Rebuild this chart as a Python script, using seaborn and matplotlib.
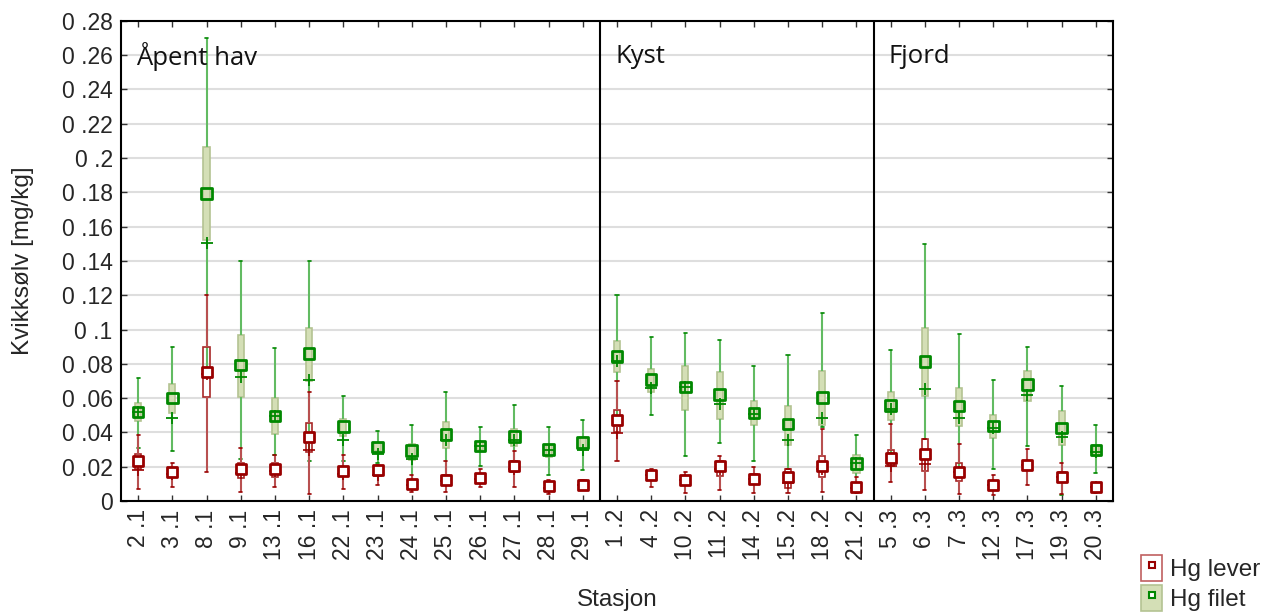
import matplotlib
matplotlib.use("Agg")
import matplotlib.pyplot as plt
from matplotlib.patches import Patch
from matplotlib.lines import Line2D
import numpy as np
import pandas as pd
import seaborn as sns

sns.set_theme(style="white")
plt.rcParams['font.family'] = ['Liberation Sans', 'DejaVu Sans']

# stations, grouped: Åpent hav (.1), Kyst (.2), Fjord (.3)
stations = ['2 .1', '3 .1', '8 .1', '9 .1', '13 .1', '16 .1', '22 .1', '23 .1', '24 .1', '25 .1',
            '26 .1', '27 .1', '28 .1', '29 .1',
            '1 .2', '4 .2', '10 .2', '11 .2', '14 .2', '15 .2', '18 .2', '21 .2',
            '5 .3', '6 .3', '7 .3', '12 .3', '17 .3', '19 .3', '20 .3']
regions = ['Åpent hav', 'Kyst', 'Fjord']
region_sizes = [14, 8, 7]

# Hg filet [mg/kg]: whisker low, box low, centre (square), box high, whisker high, '+' mark
filet_min = [0.031, 0.029, 0.074, 0.0245, 0.0268, 0.0233, 0.0233, 0.0221, 0.012, 0.0153,
             0.0206, 0.0231, 0.015, 0.0183,
             0.048, 0.0502, 0.0262, 0.0339, 0.0231, 0.0184, 0.043, 0.0083,
             0.028, 0.0359, 0.0184, 0.0184, 0.032, 0.0037, 0.0165]
filet_q1 = [0.0466, 0.0515, 0.1525, 0.0608, 0.0392, 0.0699, 0.0379, 0.0289, 0.0241, 0.0307,
            0.0295, 0.0318, 0.0256, 0.0299,
            0.0752, 0.0636, 0.0533, 0.0481, 0.0446, 0.0329, 0.0442, 0.0165,
            0.047, 0.0612, 0.0439, 0.0369, 0.0584, 0.0324, 0.0262]
filet_mid = [0.052, 0.060, 0.1794, 0.0792, 0.0495, 0.086, 0.0435, 0.0315, 0.0295, 0.0388,
             0.032, 0.0377, 0.0299, 0.034,
             0.0843, 0.0707, 0.0665, 0.062, 0.0514, 0.045, 0.0605, 0.0219,
             0.0557, 0.0812, 0.0553, 0.0437, 0.0678, 0.0427, 0.0297]
filet_q3 = [0.0569, 0.0682, 0.2062, 0.0967, 0.0602, 0.101, 0.048, 0.0338, 0.0332, 0.0462,
            0.0344, 0.0421, 0.0328, 0.0373,
            0.0934, 0.0771, 0.0785, 0.0752, 0.0581, 0.0552, 0.0756, 0.0266,
            0.0637, 0.1008, 0.0658, 0.0501, 0.0761, 0.0524, 0.0324]
filet_max = [0.0718, 0.090, 0.270, 0.140, 0.0893, 0.140, 0.0612, 0.041, 0.0441, 0.0637,
             0.0429, 0.0561, 0.0429, 0.047,
             0.120, 0.0959, 0.0979, 0.094, 0.0789, 0.0849, 0.1099, 0.0384,
             0.0883, 0.150, 0.0973, 0.0703, 0.0899, 0.0672, 0.0443]
filet_plus = [0.052, 0.0485, 0.1506, 0.0724, 0.0495, 0.0705, 0.0353, 0.0272, 0.0245, 0.0357,
              0.032, 0.0357, 0.0299, 0.0299,
              0.0814, 0.0657, 0.0665, 0.0568, 0.051, 0.0353, 0.0484, 0.0219,
              0.0534, 0.0656, 0.0485, 0.0423, 0.0621, 0.0375, 0.0287]

# Hg lever [mg/kg]
lever_min = [0.0072, 0.0083, 0.0171, 0.0052, 0.0083, 0.0043, 0.0072, 0.0091, 0.005, 0.005,
             0.0082, 0.0082, 0.0043, 0.0062,
             0.0231, 0.0081, 0.0045, 0.0062, 0.0045, 0.0045, 0.0052, 0.0045,
             0.0111, 0.0064, 0.0043, 0.0033, 0.0093, 0.0039, 0.0049]
lever_q1 = [0.0184, 0.0142, 0.0606, 0.0136, 0.0142, 0.0285, 0.0146, 0.0148, 0.0076, 0.0101,
            0.0109, 0.0167, 0.0056, 0.007,
            0.0403, 0.0126, 0.0097, 0.0145, 0.0103, 0.0078, 0.0141, 0.0058,
            0.0204, 0.0175, 0.0117, 0.0072, 0.0184, 0.0117, 0.0064]
lever_mid = [0.0235, 0.0169, 0.0753, 0.0184, 0.0184, 0.0375, 0.0177, 0.0181, 0.0101, 0.0124,
             0.0136, 0.0202, 0.0085, 0.0095,
             0.0475, 0.0151, 0.0122, 0.0207, 0.013, 0.014, 0.0203, 0.0083,
             0.0249, 0.0272, 0.0171, 0.0093, 0.0208, 0.0142, 0.0082]
lever_q3 = [0.0274, 0.0194, 0.0899, 0.0223, 0.0219, 0.0456, 0.020, 0.0206, 0.0124, 0.015,
            0.0159, 0.0235, 0.0109, 0.012,
            0.0533, 0.0174, 0.0145, 0.0236, 0.0155, 0.0184, 0.0262, 0.0107,
            0.0297, 0.0359, 0.0219, 0.0117, 0.0229, 0.0169, 0.0097]
lever_max = [0.0384, 0.0223, 0.1202, 0.031, 0.0268, 0.0637, 0.0268, 0.021, 0.015, 0.0231,
             0.0186, 0.0291, 0.0124, 0.0124,
             0.0702, 0.0188, 0.0171, 0.0262, 0.020, 0.0184, 0.042, 0.0141,
             0.0452, 0.0359, 0.033, 0.015, 0.0301, 0.0219, 0.0103]
lever_plus = [0.0179, 0.0155, 0.0742, 0.0165, 0.0175, 0.030, 0.0155, 0.015, 0.0095, 0.0115,
              0.0128, 0.0186, 0.0076, 0.0095,
              0.0397, 0.0151, 0.0122, 0.0184, 0.013, 0.0107, 0.0184, 0.0078,
              0.0204, 0.0214, 0.0171, 0.0093, 0.0208, 0.0142, 0.008]


def five_numbers(lo, q1, mid, q3, hi):
    # 5 values per station -> boxplot with whis=(0,100) gives exactly these box/whisker ends
    rows = []
    for i, st in enumerate(stations):
        for v in (lo[i], q1[i], mid[i], q3[i], hi[i]):
            rows.append((st, v))
    return pd.DataFrame(rows, columns=['Stasjon', 'Hg'])


df_filet = five_numbers(filet_min, filet_q1, filet_mid, filet_q3, filet_max)
df_lever = five_numbers(lever_min, lever_q1, lever_mid, lever_q3, lever_max)

red_dark, red_light = '#990000', '#b85050'
green_dark, green_light = '#008800', '#62bb62'
filet_face, filet_edge = '#d4dfb6', '#b4c392'

fig, ax = plt.subplots(figsize=(12.83, 6.14), dpi=100)
fig.subplots_adjust(left=0.0943, right=0.8675, top=0.966, bottom=0.184)

sns.boxplot(data=df_filet, x='Stasjon', y='Hg', order=stations, whis=(0, 100), width=0.18,
            showfliers=False, ax=ax,
            boxprops=dict(facecolor=filet_face, edgecolor=filet_edge, linewidth=1.2, zorder=2),
            whiskerprops=dict(color=green_light, linewidth=1.5, zorder=2),
            capprops=dict(color=green_dark, linewidth=1.2, zorder=2),
            medianprops=dict(visible=False))
sns.boxplot(data=df_lever, x='Stasjon', y='Hg', order=stations, whis=(0, 100), width=0.18,
            showfliers=False, ax=ax,
            boxprops=dict(facecolor='none', edgecolor='#a82828', linewidth=1.2, zorder=2.5),
            whiskerprops=dict(color=red_light, linewidth=1.5, zorder=2.5),
            capprops=dict(color=red_dark, linewidth=1.2, zorder=2.5),
            medianprops=dict(visible=False))

sns.scatterplot(x=stations, y=filet_plus, marker='+', s=85, color=green_dark, linewidth=1.3,
                ax=ax, zorder=3, legend=False)
sns.scatterplot(x=stations, y=lever_plus, marker='+', s=65, color=red_dark, linewidth=1.2,
                ax=ax, zorder=3, legend=False)
sns.scatterplot(x=stations, y=filet_mid, marker='s', s=58, facecolor='none', edgecolor=green_dark,
                linewidth=2.0, ax=ax, zorder=4, legend=False)
sns.scatterplot(x=stations, y=lever_mid, marker='s', s=58, facecolor='white', edgecolor=red_dark,
                linewidth=2.0, ax=ax, zorder=4, legend=False)

# region separators and names
edges = np.cumsum(region_sizes)[:-1] - 0.5
for e in edges:
    ax.axvline(e, color='black', linewidth=1.5, zorder=5)
starts = np.concatenate([[0], np.cumsum(region_sizes)[:-1]]) - 0.5
for s0, name in zip(starts, regions):
    ax.text(s0 + 0.45, 0.2595, name, fontsize=18.5, family=['Open Sans', 'DejaVu Sans'],
            va='center', ha='left', color='#111111')

ax.set_xlim(-0.5, len(stations) - 0.5)
ax.set_ylim(0, 0.28)
yt = np.round(np.arange(0, 0.281, 0.02), 2)
ax.set_yticks(yt)
ax.set_yticklabels(['0' if v == 0 else '0 ' + ('%.2f' % v)[1:].rstrip('0') for v in yt])
ax.yaxis.grid(True, color='#dedede', linewidth=1.5)
ax.set_axisbelow(True)

ax.tick_params(axis='both', direction='in', length=4, width=1, color='#333333',
               labelsize=16.5, top=True, right=True, bottom=True, left=True)
ax.tick_params(axis='x', labelrotation=90, pad=6)
ax.tick_params(axis='y', pad=6)
for sp in ax.spines.values():
    sp.set_color('black')
    sp.set_linewidth(1.5)

ax.set_xlabel('Stasjon', fontsize=17.5)
ax.set_ylabel('Kvikksølv [mg/kg]', fontsize=17.5)
ax.xaxis.set_label_coords(0.5, -0.183)
ax.yaxis.set_label_coords(-0.088, 0.5)

handles = [
    (Patch(facecolor='white', edgecolor='#c06060', linewidth=1.2),
     Line2D([], [], marker='s', linestyle='none', markersize=4.5, markerfacecolor='white',
            markeredgecolor=red_dark, markeredgewidth=1.5)),
    (Patch(facecolor=filet_face, edgecolor=filet_edge, linewidth=1.2),
     Line2D([], [], marker='s', linestyle='none', markersize=4.5, markerfacecolor='white',
            markeredgecolor=green_dark, markeredgewidth=1.5)),
]
fig.legend(handles, ['Hg lever', 'Hg filet'], loc='upper left',
           bbox_to_anchor=(1126 / 1283, 1 - 540 / 614), frameon=False, fontsize=17.5,
           handlelength=0.9, handleheight=1.3, handletextpad=0.3, labelspacing=0.15,
           borderpad=0.1)

fig.savefig('out.png', dpi=100)
